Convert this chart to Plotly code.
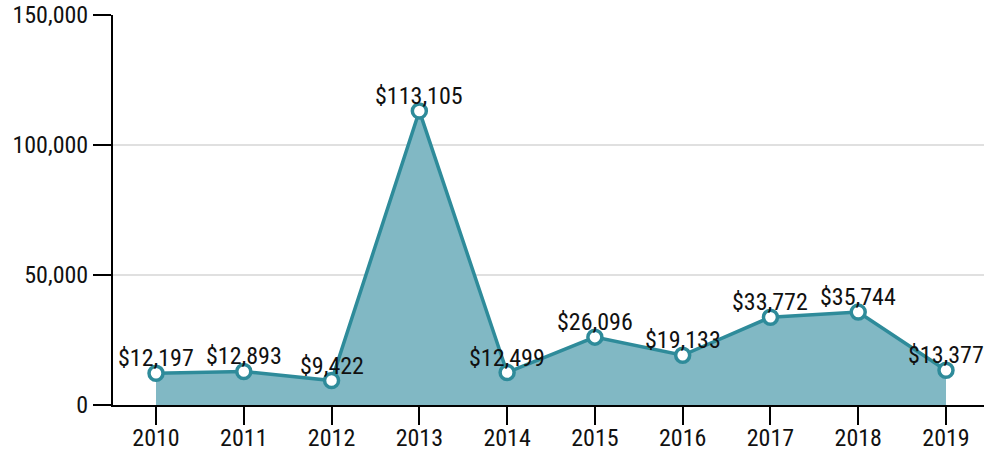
import plotly.graph_objects as go

years = ["2010", "2011", "2012", "2013", "2014", "2015", "2016", "2017", "2018", "2019"]
values = [12197, 12893, 9422, 113105, 12499, 26096, 19133, 33772, 35744, 13377]
labels = ["$" + format(v, ",") for v in values]
y_ticks = [0, 50000, 100000, 150000]

FONT = "Roboto Condensed, Liberation Sans Narrow, Roboto, sans-serif"
TEXT_COLOR = "#111111"
FS = 24

fig = go.Figure()
fig.add_trace(go.Scatter(
    x=years, y=values, mode="lines+markers",
    fill="tozeroy", fillcolor="#81b8c4",
    line=dict(color="#2e8b9a", width=3.5),
    marker=dict(size=14, color="white", line=dict(color="#2e8b9a", width=3.5)),
    cliponaxis=False, hoverinfo="skip",
))

for i, (v, t) in enumerate(zip(values, labels)):
    fig.add_annotation(
        x=i, y=v, xref="x", yref="y", text=t, showarrow=False,
        xanchor="center", yanchor="middle", yshift=15,
        font=dict(family=FONT, size=FS, color=TEXT_COLOR),
    )

fig.update_layout(
    width=984, height=450,
    margin=dict(l=113, r=0, t=15, b=45, autoexpand=False),
    paper_bgcolor="white", plot_bgcolor="white",
    showlegend=False,
    font=dict(family=FONT, size=FS, color=TEXT_COLOR),
)
fig.update_xaxes(
    type="category", range=[-0.49, 9.433], automargin=False,
    showline=True, linecolor="black", linewidth=2,
    ticks="outside", ticklen=18, tickwidth=2, tickcolor="black",
    ticklabelstandoff=-8,
    showgrid=False, tickfont=dict(family=FONT, size=FS, color=TEXT_COLOR),
)
fig.update_yaxes(
    range=[0, 150000], tickvals=y_ticks, tickformat=",", automargin=False,
    showline=True, linecolor="black", linewidth=2,
    ticks="outside", ticklen=18, tickwidth=2, tickcolor="black",
    showgrid=True, gridcolor="#e0e0e0", gridwidth=1.5, zeroline=False,
    tickfont=dict(family=FONT, size=FS, color=TEXT_COLOR),
)

fig.write_html(
    "out.html",
    config={"displayModeBar": False},
    post_script="document.body.style.margin='0';document.body.style.overflow='hidden';",
)
